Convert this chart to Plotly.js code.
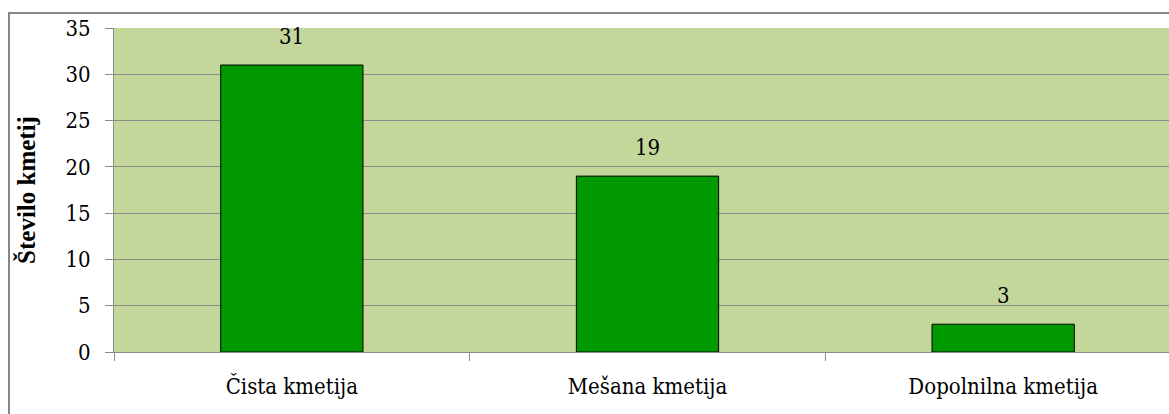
<!DOCTYPE html>
<html>
<head>
<meta charset="utf-8">
<script src="https://cdn.plot.ly/plotly-3.0.1.min.js"></script>
<style>
  html, body { margin: 0; padding: 0; overflow: hidden; background: #ffffff; }
  #chart { width: 1181px; height: 414px; }
</style>
</head>
<body>
<div id="chart"></div>
<script>
// Farm types and the number of farms of each type
const categories = ['Čista kmetija', 'Mešana kmetija', 'Dopolnilna kmetija'];
const farmCounts = [31, 19, 3];
const yTickValues = [0, 5, 10, 15, 20, 25, 30, 35];

const serif = 'DejaVu Serif Condensed, DejaVu Serif, serif';
const serifBold = 'Liberation Serif, Times New Roman, serif';
const gridGray = '#8c8c8c';

const bars = {
  type: 'bar',
  x: categories,
  y: farmCounts,
  width: 0.4,
  marker: { color: '#009900', line: { color: '#000000', width: 1 } },
  hoverinfo: 'skip'
};

// Value labels above each bar
const valueLabels = categories.map((c, i) => ({
  x: c,
  y: farmCounts[i],
  text: String(farmCounts[i]),
  showarrow: false,
  yanchor: 'bottom',
  yshift: 14,
  font: { family: serif, size: 22, color: '#000000' }
}));

const layout = {
  width: 1181,
  height: 414,
  margin: { l: 114, r: 0, t: 28, b: 62, pad: 0 },
  paper_bgcolor: '#ffffff',
  plot_bgcolor: '#c4d79b',
  showlegend: false,
  font: { family: serif, size: 22, color: '#000000' },
  xaxis: {
    type: 'category',
    automargin: false,
    range: [-0.5, 2.5],
    tickson: 'boundaries',
    ticks: 'outside',
    ticklen: 8,
    tickwidth: 1,
    tickcolor: gridGray,
    showline: true,
    linecolor: gridGray,
    linewidth: 1,
    showgrid: false,
    ticklabelstandoff: 15,
    tickfont: { family: serif, size: 22, color: '#000000' }
  },
  yaxis: {
    automargin: false,
    range: [0, 35],
    tickvals: yTickValues,
    ticks: 'outside',
    ticklen: 8,
    tickwidth: 1,
    tickcolor: gridGray,
    showline: true,
    linecolor: gridGray,
    linewidth: 1,
    showgrid: true,
    gridcolor: gridGray,
    gridwidth: 1,
    zeroline: false,
    ticklabelstandoff: 10,
    tickfont: { family: serif, size: 22, color: '#000000' },
    title: {
      text: 'Število kmetij',
      standoff: 22,
      font: { family: serifBold, size: 25, color: '#000000', weight: 'bold' }
    }
  },
  annotations: valueLabels,
  shapes: [
    {
      type: 'rect',
      xref: 'paper', yref: 'paper',
      x0: -0.0984, x1: 1.2, y0: -0.4, y1: 1.0463,
      line: { color: '#878787', width: 2 },
      fillcolor: 'rgba(0,0,0,0)',
      layer: 'below'
    }
  ]
};

Plotly.newPlot('chart', [bars], layout, { staticPlot: true, displayModeBar: false });
</script>
</body>
</html>
